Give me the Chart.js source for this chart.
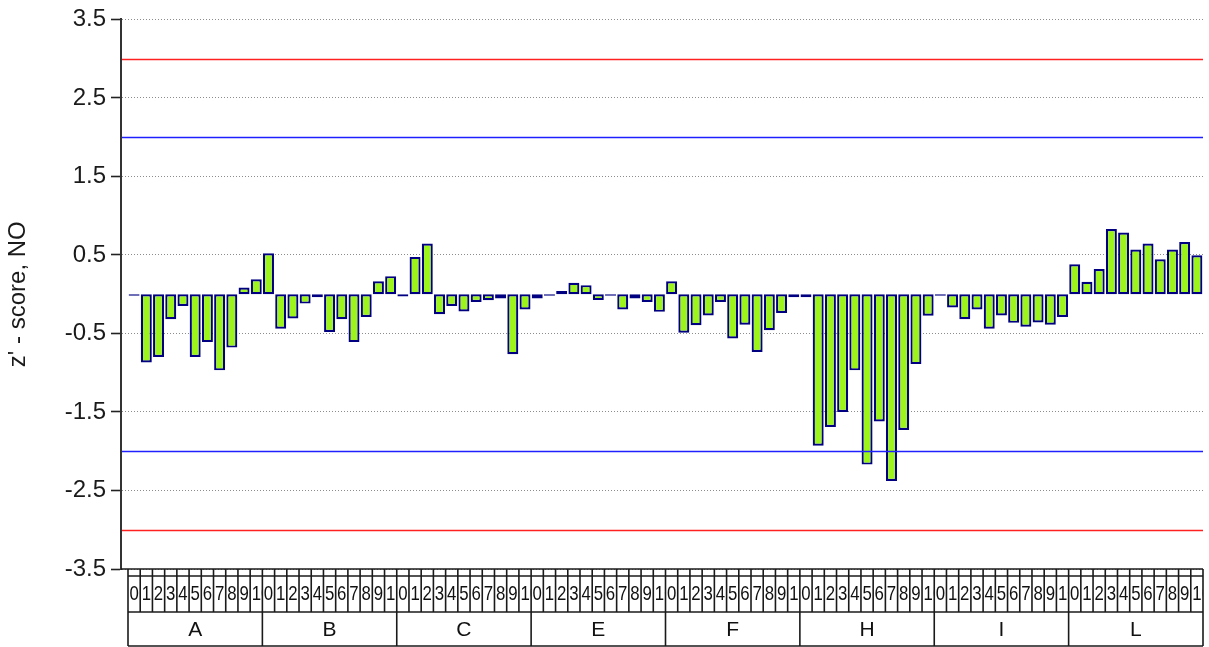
<!DOCTYPE html>
<html><head><meta charset="utf-8">
<script src="https://cdn.jsdelivr.net/npm/chart.js@4/dist/chart.umd.min.js"></script>
<style>html,body{margin:0;padding:0;background:#fff;overflow:hidden}</style>
</head><body>
<canvas id="c" width="1209" height="647"></canvas>
<script>
// ---- data ----
const groups = ['A','B','C','E','F','H','I','L'];
const subLabels = ['0','1','2','3','4','5','6','7','8','9','10'];
const zA = [-0.02, -0.87, -0.80, -0.32, -0.15, -0.80, -0.61, -0.97, -0.68, 0.085, 0.19];
const zB = [0.52, -0.44, -0.31, -0.12, -0.04, -0.48, -0.32, -0.61, -0.29, 0.165, 0.23];
const zC = [-0.03, 0.475, 0.645, -0.255, -0.15, -0.22, -0.10, -0.077, -0.055, -0.765, -0.195];
const zE = [-0.055, -0.02, 0.04, 0.145, 0.115, -0.075, -0.02, -0.195, -0.055, -0.10, -0.225];
const zF = [0.165, -0.49, -0.395, -0.27, -0.10, -0.565, -0.39, -0.735, -0.46, -0.24, -0.04];
const zH = [-0.04, -1.93, -1.69, -1.50, -0.97, -2.17, -1.62, -2.38, -1.73, -0.89, -0.275];
const zI = [-0.02, -0.17, -0.32, -0.195, -0.44, -0.27, -0.365, -0.415, -0.36, -0.39, -0.29];
const zL = [0.38, 0.157, 0.32, 0.83, 0.785, 0.57, 0.645, 0.445, 0.57, 0.665, 0.495];
const yTicks = [-3.5, -2.5, -1.5, -0.5, 0.5, 1.5, 2.5, 3.5];
const actionLimits = [3, -3];
const warningLimits = [2, -2];
// ------------------

const groupData = [zA, zB, zC, zE, zF, zH, zI, zL];
const perGroup = subLabels.length;
const points = [];
groupData.forEach((arr, g) => arr.forEach((v, k) => points.push({x: g * perGroup + k, y: v})));
const nCells = points.length;

const FONT = 'Liberation Sans, Arial, sans-serif';

const limitPlugin = {
  id: 'limits',
  afterDatasetsDraw(chart) {
    const {ctx, chartArea: a, scales: {y}} = chart;
    ctx.save();
    const draw = (vals, color) => vals.forEach(v => {
      const py = Math.round(y.getPixelForValue(v)) + 0.5;
      ctx.strokeStyle = color; ctx.lineWidth = 1.5;
      ctx.beginPath(); ctx.moveTo(a.left + 1, py); ctx.lineTo(a.right, py); ctx.stroke();
    });
    draw(warningLimits, '#2020ff');
    draw(actionLimits, '#ff2020');
    ctx.restore();
  }
};

const tablePlugin = {
  id: 'table',
  afterDraw(chart) {
    const {ctx, chartArea: a, scales: {x}} = chart;
    const y0 = a.bottom, y1 = y0 + 7, y2 = 612, y3 = 646;
    const left = x.getPixelForValue(-0.5), right = x.getPixelForValue(nCells - 0.5);
    ctx.save();
    ctx.strokeStyle = '#1a1a1a'; ctx.lineWidth = 1.6;
    ctx.beginPath(); ctx.moveTo(a.left, y0); ctx.lineTo(right, y0); ctx.stroke();
    [y1, y2, y3].forEach(yy => { ctx.beginPath(); ctx.moveTo(left, yy); ctx.lineTo(right, yy); ctx.stroke(); });
    for (let i = 0; i <= nCells; i++) {
      const px = x.getPixelForValue(i - 0.5);
      const isGroup = i % perGroup === 0;
      ctx.beginPath(); ctx.moveTo(px, y0); ctx.lineTo(px, isGroup ? y3 : y2); ctx.stroke();
    }
    ctx.fillStyle = '#111';
    ctx.font = '21px ' + FONT;
    ctx.textBaseline = 'middle';
    const sx = 0.8;
    for (let i = 0; i < nCells; i++) {
      const l = x.getPixelForValue(i - 0.5), r = x.getPixelForValue(i + 0.5);
      const txt = subLabels[i % perGroup];
      const w = ctx.measureText(txt).width * sx;
      ctx.save();
      ctx.beginPath(); ctx.rect(l + 1, y1, r - l - 1.5, y2 - y1); ctx.clip();
      const cy = (y1 + y2) / 2;
      if (w > r - l - 2) {
        ctx.translate(l + 1.5, cy); ctx.scale(sx, 1); ctx.textAlign = 'left';
      } else {
        ctx.translate((l + r) / 2, cy); ctx.scale(sx, 1); ctx.textAlign = 'center';
      }
      ctx.fillText(txt, 0, 0);
      ctx.restore();
    }
    ctx.font = '21px ' + FONT;
    ctx.textAlign = 'center';
    groups.forEach((g, gi) => {
      const cx = (x.getPixelForValue(gi * perGroup - 0.5) + x.getPixelForValue((gi + 1) * perGroup - 0.5)) / 2;
      ctx.fillText(g, cx, (y2 + y3) / 2 + 1);
    });
    ctx.restore();
  }
};

new Chart(document.getElementById('c'), {
  type: 'bar',
  data: {
    datasets: [{
      data: points,
      backgroundColor: '#9cf41c',
      borderColor: '#000080',
      borderWidth: 2.2,
      borderSkipped: false,
      barPercentage: 0.9,
      categoryPercentage: 1.0
    }]
  },
  options: {
    responsive: false,
    animation: false,
    devicePixelRatio: 1,
    layout: { padding: { top: 18, right: 6, bottom: 78, left: 0 } },
    plugins: { legend: { display: false }, tooltip: { enabled: false } },
    scales: {
      x: { type: 'linear', display: false, offset: false, min: -1.073, max: nCells - 0.5 },
      y: {
        min: -3.5, max: 3.5,
        afterBuildTicks: s => { s.ticks = yTicks.map(v => ({value: v})); },
        afterFit: s => { s.width = 121; },
        ticks: { font: { family: FONT, size: 24 }, color: '#1a1a1a', padding: 5, callback: v => String(v) },
        grid: { color: '#8c8c8c', lineWidth: 1, tickColor: '#222', tickLength: 10, tickWidth: 1.6 },
        border: { color: '#333', width: 2, dash: [1, 2] },
        title: { display: true, text: "z' - score, NO", font: { family: FONT, size: 24 }, color: '#1a1a1a', padding: { top: 4, bottom: 0 } }
      }
    }
  },
  plugins: [limitPlugin, tablePlugin]
});
</script>
</body></html>
